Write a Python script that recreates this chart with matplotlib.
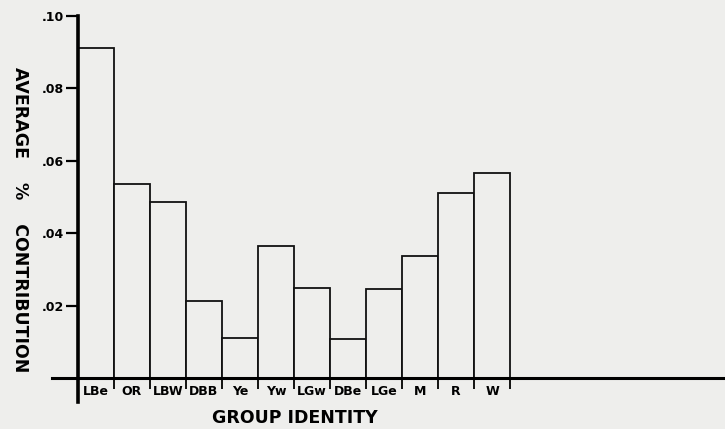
import matplotlib.pyplot as plt
import numpy as np

groups = ["LBe", "OR", "LBW", "DBB", "Ye", "Yw", "LGw", "DBe", "LGe", "M", "R", "W"]
contribution = [0.0912, 0.0537, 0.0486, 0.0213, 0.0110, 0.0366,
                0.0249, 0.0108, 0.0246, 0.0337, 0.0511, 0.0566]
ytick_values = [0.02, 0.04, 0.06, 0.08, 0.10]
ytick_labels = [".02", ".04", ".06", ".08", ".10"]

bg = "#eeeeec"

fig = plt.figure(figsize=(7.25, 4.29), dpi=100, facecolor=bg)
ax = fig.add_axes([52 / 725, 1 - 402 / 429, 1 - 52 / 725, 390 / 429])
ax.set_facecolor(bg)

x = np.arange(len(groups))
ax.bar(x, contribution, width=1.0, color=bg, edgecolor="#111111", linewidth=1.3)

ax.set_xlim(-0.5 - 26 / 36, -0.5 + 647 / 36)
ax.set_ylim(-24 / 3620, 366 / 3620)

for s in ["top", "right"]:
    ax.spines[s].set_visible(False)
ax.spines["bottom"].set_position(("data", 0))
ax.spines["bottom"].set_linewidth(2.2)
ax.spines["left"].set_position(("data", -0.5))
ax.spines["left"].set_linewidth(2.6)
ax.spines["left"].set_bounds(-24 / 3620, 0.10)

ax.set_yticks(ytick_values)
ax.set_yticklabels(ytick_labels, fontsize=9, fontweight="bold")
ax.tick_params(axis="y", direction="out", length=9, width=1.6, pad=1)

ax.set_xticks(np.arange(len(groups) + 1) - 0.5)
ax.set_xticklabels([])
ax.tick_params(axis="x", which="major", direction="out", length=8, width=1.3)
ax.set_xticks(x, minor=True)
ax.set_xticklabels(groups, minor=True, fontsize=9, fontweight="bold")
ax.tick_params(axis="x", which="minor", length=0, pad=5)

fig.text(295 / 725, 1 - 418 / 429, "GROUP IDENTITY", ha="center", va="center",
         fontsize=12.5, fontweight="bold")
fig.text(20 / 725, 1 - 220 / 429, "AVERAGE    %    CONTRIBUTION", rotation=270,
         ha="center", va="center", fontsize=12.5, fontweight="bold")

fig.savefig("out.png", dpi=100, facecolor=bg)
